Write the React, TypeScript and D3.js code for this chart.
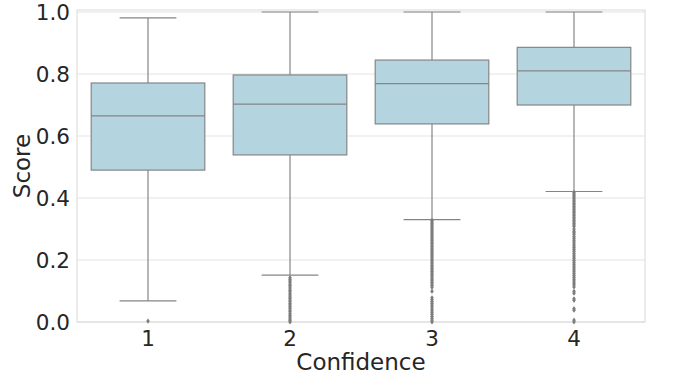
import React from "react";
import * as d3 from "d3";

const categories = ["1", "2", "3", "4"];
const whiskerHigh = [0.981, 1.0, 1.0, 1.0];
const q3 = [0.771, 0.797, 0.845, 0.886];
const medians = [0.665, 0.703, 0.769, 0.81];
const q1 = [0.49, 0.539, 0.639, 0.7];
const whiskerLow = [0.068, 0.151, 0.33, 0.421];
const outliers1 = [0.003];
const outliers2 = [0.143, 0.137, 0.132, 0.127, 0.12, 0.116, 0.11, 0.103, 0.099, 0.093, 0.087, 0.081, 0.077, 0.071, 0.066, 0.06, 0.055, 0.049, 0.044, 0.038, 0.033, 0.027, 0.021, 0.016, 0.01, 0.005, 0.0];
const outliers3 = [0.328, 0.323, 0.318, 0.313, 0.308, 0.303, 0.298, 0.293, 0.288, 0.283, 0.278, 0.273, 0.268, 0.263, 0.258, 0.253, 0.248, 0.243, 0.238, 0.233, 0.228, 0.223, 0.218, 0.213, 0.208, 0.203, 0.198, 0.193, 0.188, 0.183, 0.178, 0.173, 0.168, 0.163, 0.158, 0.153, 0.148, 0.143, 0.138, 0.133, 0.128, 0.123, 0.118, 0.112, 0.099, 0.078, 0.072, 0.066, 0.06, 0.054, 0.048, 0.042, 0.036, 0.03, 0.024, 0.018, 0.012, 0.006, 0.0];
const outliers4 = [0.418, 0.413, 0.408, 0.403, 0.398, 0.393, 0.388, 0.383, 0.378, 0.373, 0.368, 0.363, 0.358, 0.353, 0.348, 0.343, 0.338, 0.333, 0.328, 0.323, 0.318, 0.313, 0.308, 0.3, 0.293, 0.288, 0.283, 0.276, 0.27, 0.264, 0.258, 0.252, 0.246, 0.24, 0.234, 0.228, 0.222, 0.216, 0.21, 0.204, 0.198, 0.192, 0.186, 0.18, 0.174, 0.168, 0.162, 0.156, 0.15, 0.144, 0.138, 0.132, 0.126, 0.12, 0.113, 0.099, 0.093, 0.075, 0.07, 0.043, 0.038, 0.006, 0.0];
const outlierSets = [outliers1, outliers2, outliers3, outliers4];
const yTicks = [0.0, 0.2, 0.4, 0.6, 0.8, 1.0];

const W = 679;
const H = 380;
const left = 77;
const right = 645;
const top = 10;
const bottom = 322;

export default function App() {
  const x = d3.scaleBand<string>().domain(categories).range([left, right]).paddingInner(0).paddingOuter(0);
  const y = d3.scaleLinear().domain([0, 1.0065]).range([bottom, top]);
  const bw = x.bandwidth() * 0.8;
  const capW = bw / 2;
  const lineColor = "#858585";
  const textColor = "#262626";
  const font = "DejaVu Sans, sans-serif";
  const diamond = "M0,-2.6L1.8,0L0,2.6L-1.8,0Z";

  return (
    <svg width={W} height={H} style={{ position: "absolute", left: 0, top: 0 }} fontFamily={font}>
      <rect x={0} y={0} width={W} height={H} fill="#ffffff" />
      {yTicks.map((t) => (
        <line key={"g" + t} x1={left} x2={right} y1={y(t)} y2={y(t)} stroke="#e3e3e3" strokeWidth={1} />
      ))}
      <rect x={left} y={top} width={right - left} height={bottom - top} fill="none" stroke="#d9d9d9" strokeWidth={1} />
      {categories.map((c, i) => {
        const cx = (x(c) as number) + x.bandwidth() / 2;
        return (
          <g key={c}>
            <line x1={cx} x2={cx} y1={y(q3[i])} y2={y(whiskerHigh[i])} stroke={lineColor} strokeWidth={1.2} />
            <line x1={cx} x2={cx} y1={y(q1[i])} y2={y(whiskerLow[i])} stroke={lineColor} strokeWidth={1.2} />
            <line x1={cx - capW / 2} x2={cx + capW / 2} y1={y(whiskerHigh[i])} y2={y(whiskerHigh[i])} stroke={lineColor} strokeWidth={1.2} />
            <line x1={cx - capW / 2} x2={cx + capW / 2} y1={y(whiskerLow[i])} y2={y(whiskerLow[i])} stroke={lineColor} strokeWidth={1.2} />
            <rect x={cx - bw / 2} y={y(q3[i])} width={bw} height={y(q1[i]) - y(q3[i])} fill="#b4d4df" stroke={lineColor} strokeWidth={1.2} />
            <line x1={cx - bw / 2} x2={cx + bw / 2} y1={y(medians[i])} y2={y(medians[i])} stroke={lineColor} strokeWidth={1.2} />
            {outlierSets[i].map((v, j) => (
              <path key={j} d={diamond} transform={`translate(${cx},${y(v)})`} fill="#7d7d7d" />
            ))}
            <text x={cx} y={345.5} textAnchor="middle" fontSize={21.5} fill={textColor}>{c}</text>
          </g>
        );
      })}
      {yTicks.map((t) => (
        <text key={"t" + t} x={70} y={y(t) + 7.8} textAnchor="end" fontSize={21.5} fill={textColor}>{t.toFixed(1)}</text>
      ))}
      <text x={(left + right) / 2} y={369.5} textAnchor="middle" fontSize={23} fill={textColor}>Confidence</text>
      <text transform={`translate(30,${(top + bottom) / 2}) rotate(-90)`} textAnchor="middle" fontSize={23} fill={textColor}>Score</text>
    </svg>
  );
}
